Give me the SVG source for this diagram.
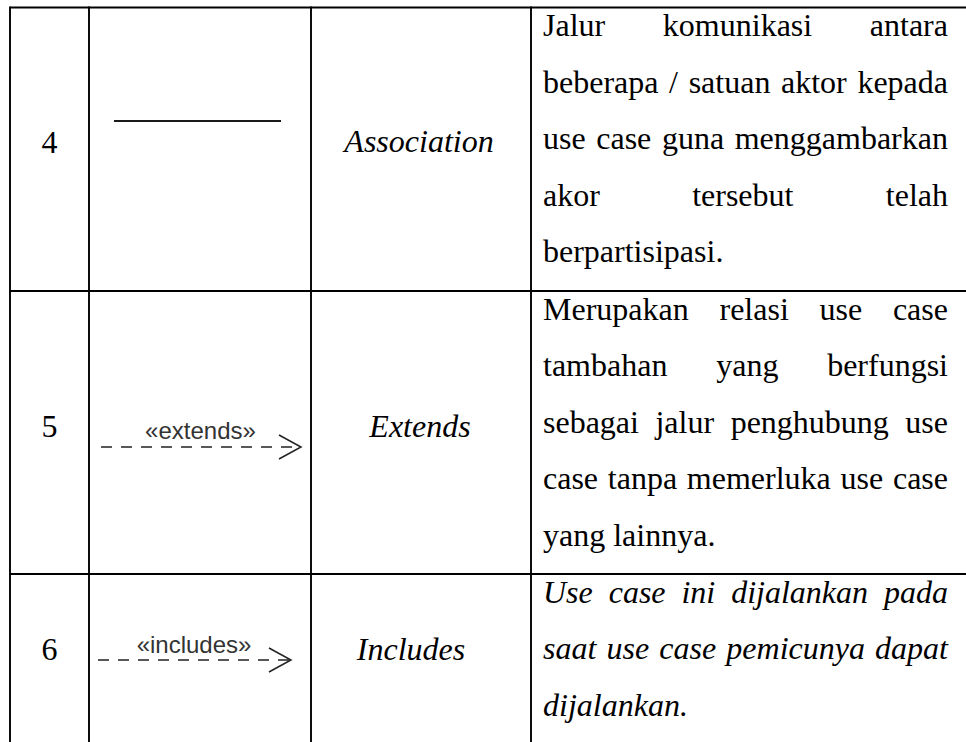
<svg xmlns="http://www.w3.org/2000/svg" width="966" height="742" viewBox="0 0 966 742">
<style>
.grid{stroke:#000;stroke-width:1.9;fill:none}
.num{font-family:"Liberation Serif","Times New Roman",serif;font-size:32px;fill:#000;text-anchor:middle}
.name{font-family:"Liberation Serif","Times New Roman",serif;font-size:32px;font-style:italic;fill:#000;text-anchor:middle}
.desc{font-family:"Liberation Serif","Times New Roman",serif;font-size:32px;fill:#000}
.desc-i{font-family:"Liberation Serif","Times New Roman",serif;font-size:32px;font-style:italic;fill:#000}
.stereo{font-family:"Liberation Sans",Arial,sans-serif;font-size:24px;fill:#333;text-anchor:middle}
.assoc{stroke:#1a1a1a;stroke-width:1.8;fill:none}
.dash{stroke:#222;stroke-width:1.5;fill:none;stroke-dasharray:11 9}
</style>
<defs>
<marker id="open" viewBox="0 0 26 28" refX="23" refY="12" markerWidth="26" markerHeight="28" markerUnits="userSpaceOnUse" orient="auto" overflow="visible">
<path d="M1,0 L23,12 L1,24" fill="none" stroke="#222" stroke-width="1.5" stroke-dasharray="none"/>
</marker>
</defs>
<rect width="966" height="742" fill="#fff"/>
<g id="table-grid">
<line class="grid" x1="10" y1="7.5" x2="966" y2="7.5"/>
<line class="grid" x1="10" y1="291" x2="966" y2="291"/>
<line class="grid" x1="10" y1="574" x2="966" y2="574"/>
<line class="grid" x1="10" y1="6.6" x2="10" y2="742"/>
<line class="grid" x1="89" y1="6.6" x2="89" y2="742"/>
<line class="grid" x1="311" y1="6.6" x2="311" y2="742"/>
<line class="grid" x1="531" y1="6.6" x2="531" y2="742"/>
</g>
<g id="connectors">
<line id="association-line" class="assoc" x1="114" y1="121" x2="281" y2="121"/>
<line id="extends-arrow" class="dash" x1="101" y1="447" x2="301" y2="447" marker-end="url(#open)"/>
<line id="includes-arrow" class="dash" x1="98" y1="660" x2="291" y2="660" marker-end="url(#open)"/>
</g>
<g id="row-4">
<text class="num" x="49.5" y="153">4</text>
<text class="name" x="419" y="152">Association</text>
<text class="desc" y="36"><tspan x="543">Jalur</tspan><tspan x="662.85">komunikasi</tspan><tspan x="869.82">antara</tspan></text>
<text class="desc" y="92.5"><tspan x="543">beberapa</tspan><tspan x="669.11">/</tspan><tspan x="688.63">satuan</tspan><tspan x="781.01">aktor</tspan><tspan x="857.39">kepada</tspan></text>
<text class="desc" y="149"><tspan x="543">use</tspan><tspan x="596.25">case</tspan><tspan x="661.91">guna</tspan><tspan x="734.71">menggambarkan</tspan></text>
<text class="desc" y="205.5"><tspan x="543">akor</tspan><tspan x="692.17">tersebut</tspan><tspan x="885.79">telah</tspan></text>
<text class="desc" x="543" y="262">berpartisipasi.</text>
</g>
<g id="row-5">
<text class="num" x="49.5" y="437">5</text>
<text class="stereo" x="200.5" y="439">«extends»</text>
<text class="name" x="420" y="437">Extends</text>
<text class="desc" y="319.5"><tspan x="543">Merupakan</tspan><tspan x="719.47">relasi</tspan><tspan x="819.52">use</tspan><tspan x="892.92">case</tspan></text>
<text class="desc" y="376"><tspan x="543">tambahan</tspan><tspan x="716.18">yang</tspan><tspan x="827.15">berfungsi</tspan></text>
<text class="desc" y="432.5"><tspan x="543">sebagai</tspan><tspan x="655.47">jalur</tspan><tspan x="730.63">penghubung</tspan><tspan x="905.34">use</tspan></text>
<text class="desc" y="489"><tspan x="543">case</tspan><tspan x="607.8">tanpa</tspan><tspan x="686.84">memerluka</tspan><tspan x="840.54">use</tspan><tspan x="892.93">case</tspan></text>
<text class="desc" x="543" y="545.5">yang lainnya.</text>
</g>
<g id="row-6">
<text class="num" x="49.5" y="660">6</text>
<text class="stereo" x="194" y="653">«includes»</text>
<text class="name" x="411" y="660">Includes</text>
<text class="desc-i" y="602.5"><tspan x="543">Use</tspan><tspan x="608.68">case</tspan><tspan x="681.46">ini</tspan><tspan x="731.17">dijalankan</tspan><tspan x="883.99">pada</tspan></text>
<text class="desc-i" y="659"><tspan x="543">saat</tspan><tspan x="606.5">use</tspan><tspan x="659.32">case</tspan><tspan x="726.34">pemicunya</tspan><tspan x="875.12">dapat</tspan></text>
<text class="desc-i" x="543" y="715.5">dijalankan.</text>
</g>
</svg>
